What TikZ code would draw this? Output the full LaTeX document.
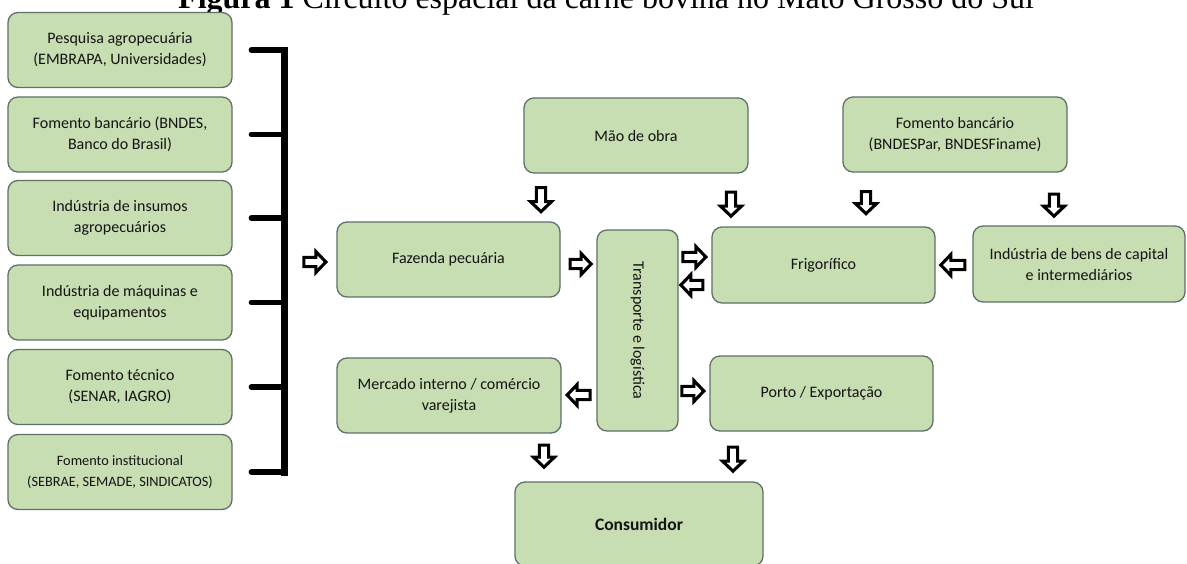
\documentclass[tikz,border=0pt]{standalone}
\usepackage{fontspec}
\setmainfont{Carlito}
\newfontfamily\titlefont{Liberation Serif}
\usetikzlibrary{calc}
\definecolor{boxfill}{RGB}{199,221,178}
\definecolor{boxline}{RGB}{96,112,104}
\definecolor{boxtext}{RGB}{20,20,20}
\tikzset{
  box/.style={draw=boxline, fill=boxfill, line width=1.3pt, rounded corners=10pt,
    align=center, inner sep=0pt, text=boxtext, font=\fontsize{16}{21}\selectfont},
  lbox/.style={box, minimum width=224pt, minimum height=75pt},
  brk/.style={line width=5.5pt, black, line cap=round},
  fatst/.style={draw=black, fill=white, line width=3.1pt, line join=miter},
}
\newcommand\fatarrow[2]{%
  \path #1 coordinate (fxs);
  \path #2 coordinate (fxt);
  \draw[fatst] ($(fxs)!4.6pt!90:(fxt)$) -- ($(fxt)!10pt!(fxs)!4.6pt!90:(fxt)$)
    -- ($(fxt)!10pt!(fxs)!10.5pt!90:(fxt)$) -- (fxt)
    -- ($(fxt)!10pt!(fxs)!10.5pt!-90:(fxt)$) -- ($(fxt)!10pt!(fxs)!4.6pt!-90:(fxt)$)
    -- ($(fxs)!4.6pt!-90:(fxt)$) -- cycle;}
\begin{document}
\begin{tikzpicture}[x=1pt,y=-1pt]
\useasboundingbox (0,0) rectangle (1187,563);
\clip (0,0) rectangle (1187,563);
\fill[white] (0,0) rectangle (1187,563);
% title (cut at the top edge, as in the reference)
\node[anchor=base west, inner sep=0pt, font=\titlefont\fontsize{32}{32}\selectfont] (title) at (178,8.5)
  {\textbf{Figura 1} Circuito espacial da carne bovina no Mato Grosso do Sul};
% left column
\node[lbox] (l1) at (120,50) {Pesquisa agropecuária\\(EMBRAPA, Universidades)};
\node[lbox] (l2) at (120,134.5) {Fomento bancário (BNDES,\\Banco do Brasil)};
\node[lbox] (l3) at (120,218) {Indústria de insumos\\agropecuários};
\node[lbox] (l4) at (120,302.5) {Indústria de máquinas e\\equipamentos};
\node[lbox] (l5) at (120,387) {Fomento técnico\\(SENAR, IAGRO)};
\node[lbox, font=\fontsize{14.3}{21}\selectfont] (l6) at (120,472) {Fomento institucional\\(SEBRAE, SEMADE, SINDICATOS)};
% bracket
\coordinate (vt) at (284,50);
\coordinate (vb) at (284,472);
\draw[line width=7pt, line cap=rect] (vt) -- (vb);
\foreach \n in {l1,l2,l3,l4,l5,l6}
  \draw[brk] ($(\n.east)+(18.75,0)$) -- (\n.east -| vt);
% main boxes
\node[box, minimum width=223pt, minimum height=75pt] (faz) at (448.5,259.5) {Fazenda pecuária};
\node[box, minimum width=224pt, minimum height=75pt] (mao) at (636,135.5) {Mão de obra};
\node[box, minimum width=81pt, minimum height=201pt] (tra) at (637.5,330.5) {\rotatebox{-90}{Transporte e logística}};
\node[box, minimum width=223pt, minimum height=76pt] (fri) at (823.5,265) {Frigorífico};
\node[box, minimum width=224pt, minimum height=75pt] (fr) at (955,134.5) {Fomento bancário\\(BNDESPar, BNDESFiname)};
\node[box, minimum width=212pt, minimum height=76pt] (ind) at (1079,264) {Indústria de bens de capital\\e intermediários};
\node[box, minimum width=224pt, minimum height=75pt] (mer) at (449,395.5) {Mercado interno / comércio\\varejista};
\node[box, minimum width=223pt, minimum height=75pt] (por) at (821.5,393.5) {Porto / Exportação};
\node[box, minimum width=248pt, minimum height=84pt, font=\bfseries\fontsize{17.5}{21}\selectfont] (con) at (639,524) {Consumidor};
% block arrows
\fatarrow{($(faz.west)+(-32.5,2.5)$)}{($(faz.west)+(-10.5,2.5)$)}
\fatarrow{($(faz.east)+(9.5,4.5)$)}{($(faz.east)+(30.5,4.5)$)}
\fatarrow{($(mao.south)+(-95,14)$)}{($(mao.south)+(-95,38)$)}
\fatarrow{($(mao.south)+(95,18.5)$)}{($(mao.south)+(95,42.5)$)}
\fatarrow{($(fr.south)+(-89,19)$)}{($(fr.south)+(-89,41)$)}
\fatarrow{($(fr.south)+(99,21.5)$)}{($(fr.south)+(99,43.5)$)}
\fatarrow{($(fri.west)+(-28.5,-8)$)}{($(fri.west)+(-5.5,-8)$)}
\fatarrow{($(fri.west)+(-8.5,20)$)}{($(fri.west)+(-30.5,20)$)}
\fatarrow{($(ind.west)+(-7.5,1)$)}{($(ind.west)+(-31.5,1)$)}
\fatarrow{($(mer.east)+(28.5,-0.5)$)}{($(mer.east)+(5.5,-0.5)$)}
\fatarrow{($(por.west)+(-27.5,-2.5)$)}{($(por.west)+(-5.5,-2.5)$)}
\fatarrow{($(mer.south)+(95,11.5)$)}{($(mer.south)+(95,33.5)$)}
\fatarrow{($(por.south)+(-88.5,15.5)$)}{($(por.south)+(-88.5,39.5)$)}
\end{tikzpicture}
\end{document}
